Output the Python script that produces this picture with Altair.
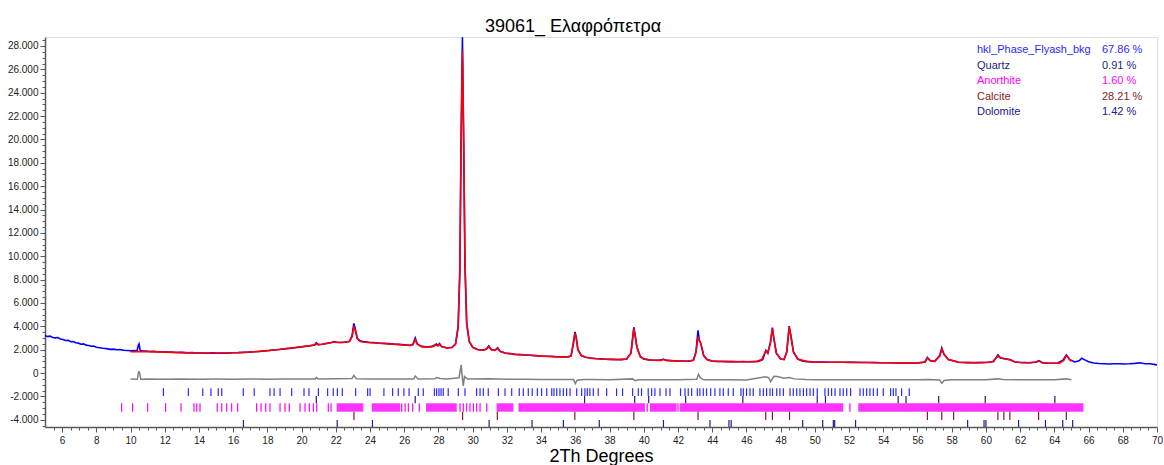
import altair as alt
import pandas as pd
import numpy as np

FONT = "Liberation Sans"
TITLE = "39061_ Ελαφρόπετρα"
X_TITLE = "2Th Degrees"

# observed pattern (2Th, counts)
OBS_X = [5.0, 5.15, 5.3, 5.45, 5.6, 5.75, 5.9, 6.05, 6.2, 6.35, 6.5, 6.65, 6.8, 6.95, 7.1, 7.25, 7.4,
         7.55, 7.7, 7.85, 8.0, 8.2, 8.4, 8.6, 8.8, 9.0, 9.2, 9.4, 9.6, 9.8, 10.0, 10.2, 10.38, 10.45,
         10.5, 10.56, 10.7, 10.9, 11.1, 11.3, 11.5, 11.8, 12.1, 12.4, 12.7, 13.0, 13.3, 13.6, 13.9,
         14.2, 14.5, 14.8, 15.1, 15.4, 15.7, 16.0, 16.3, 16.6, 16.9, 17.2, 17.5, 17.8, 18.1, 18.4,
         18.7, 19.0, 19.3, 19.6, 19.9, 20.2, 20.5, 20.75, 20.86, 20.97, 21.2, 21.5, 21.75, 21.9, 22.05,
         22.3, 22.55, 22.8, 22.95, 23.05, 23.12, 23.25, 23.4, 23.6, 23.9, 24.2, 24.5, 24.8, 25.1,
         25.4, 25.7, 26.0, 26.3, 26.5, 26.64, 26.76, 27.0, 27.3, 27.6, 27.78, 27.88, 27.96, 28.06,
         28.2, 28.5, 28.8, 29.0, 29.15, 29.25, 29.32, 29.4, 29.47, 29.55, 29.65, 29.8, 30.0, 30.3,
         30.6, 30.8, 30.94, 31.1, 31.3, 31.46, 31.6, 31.9, 32.2, 32.5, 32.8, 33.1, 33.4, 33.7, 34.0,
         34.3, 34.6, 34.9, 35.2, 35.5, 35.75, 35.9, 35.98, 36.05, 36.15, 36.35, 36.6, 36.9, 37.2,
         37.5, 37.8, 38.1, 38.4, 38.7, 39.0, 39.25, 39.42, 39.5, 39.6, 39.8, 40.0, 40.3, 40.6, 40.9,
         41.15, 41.35, 41.7, 42.0, 42.3, 42.6, 42.9, 43.05, 43.17, 43.25, 43.33, 43.5, 43.7, 44.0,
         44.3, 44.6, 44.9, 45.2, 45.5, 45.8, 46.1, 46.4, 46.7, 46.95, 47.08, 47.14, 47.25, 47.4, 47.52,
         47.6, 47.75, 48.0, 48.2, 48.36, 48.5, 48.6, 48.75, 49.0, 49.3, 49.6, 49.9, 50.2, 50.5, 50.8,
         51.1, 51.4, 51.7, 52.0, 52.3, 52.6, 52.9, 53.2, 53.5, 53.8, 54.1, 54.4, 54.7, 55.0, 55.3,
         55.6, 55.9, 56.2, 56.45, 56.58, 56.75, 57.0, 57.3, 57.42, 57.55, 57.8, 58.1, 58.4, 58.7,
         59.0, 59.3, 59.6, 59.9, 60.2, 60.45, 60.7, 60.85, 61.05, 61.4, 61.7, 62.0, 62.3, 62.6,
         62.9, 63.1, 63.3, 63.6, 63.9, 64.2, 64.5, 64.7, 64.9, 65.2, 65.45, 65.6, 65.75, 66.0, 66.3,
         66.6, 66.9, 67.2, 67.5, 67.8, 68.1, 68.4, 68.7, 69.0, 69.3, 69.6, 69.9, 70.0]
OBS_Y = [3200, 3130, 3160, 3050, 3010, 3040, 2920, 2880, 2790, 2810, 2680, 2700, 2590, 2560, 2470, 2500,
         2390, 2360, 2290, 2310, 2210, 2170, 2120, 2090, 2030, 2050, 1990, 2000, 1950, 1930, 1910, 1930,
         1900, 2350, 2500, 1960, 1880, 1890, 1850, 1870, 1830, 1820, 1800, 1790, 1760, 1770, 1730, 1750,
         1710, 1720, 1700, 1730, 1690, 1720, 1700, 1740, 1750, 1770, 1790, 1820, 1850, 1890, 1930, 1980,
         2010, 2070, 2110, 2170, 2220, 2280, 2340, 2400, 2600, 2430, 2470, 2550, 2620, 2700, 2630,
         2610, 2650, 2720, 3200, 4250, 3900, 3000, 2760, 2690, 2640, 2610, 2570, 2550, 2520,
         2480, 2450, 2420, 2380, 2420, 3000, 2500, 2280, 2240, 2260, 2400, 2490, 2350, 2520,
         2260, 2150, 2200, 2500, 4000, 9000, 20000, 28750, 20000, 9000, 4200, 2700, 2200, 2020,
         1960, 2050, 2320, 2000, 1950, 2160, 1860, 1710, 1660, 1600, 1580, 1550, 1520, 1490, 1460,
         1440, 1430, 1400, 1390, 1370, 1450, 2600, 3520, 3100, 2000, 1500, 1350, 1290, 1240,
         1210, 1180, 1170, 1160, 1150, 1200, 1700, 3920, 3200, 2200, 1400, 1210, 1130, 1100, 1090,
         1180, 1080, 1050, 1030, 1020, 1010, 1100, 1800, 3650, 2800, 2550, 1500, 1150, 1020,
         1000, 990, 980, 975, 970, 975, 965, 975, 1000, 1150, 1700, 1950, 1700, 2600, 3900,
         3000, 1700, 1200, 1160, 1800, 4020, 3200, 1800, 1200, 1020, 980, 950, 945, 935, 930,
         930, 925, 920, 915, 920, 905, 900, 900, 890, 880, 885, 875, 870, 870, 875,
         870, 865, 880, 950, 1330, 1050, 1000, 1500, 2150, 1600, 1150, 1050, 920, 900,
         890, 885, 890, 900, 930, 990, 1560, 1300, 1250, 1150, 950, 900, 890, 880,
         920, 1060, 880, 850, 840, 860, 1100, 1560, 1150, 950, 1050, 1270, 1150, 960, 860,
         820, 800, 780, 790, 800, 780, 790, 830, 880, 800, 790, 720, 700]

# calculated pattern
CALC_X = [10.0, 10.5, 11.0, 11.5, 12.0, 12.5, 13.0, 13.5, 14.0, 14.5, 15.0, 15.5, 16.0, 16.5, 17.0,
          17.5, 18.0, 18.5, 19.0, 19.5, 20.0, 20.5, 20.78, 20.86, 20.95, 21.2, 21.5, 21.9, 22.2,
          22.5, 22.8, 22.95, 23.05, 23.12, 23.25, 23.4, 23.6, 24.0, 24.5, 25.0, 25.5, 26.0, 26.4,
          26.55, 26.64, 26.75, 27.0, 27.4, 27.7, 27.85, 27.95, 28.05, 28.2, 28.5, 28.8, 29.0, 29.15,
          29.25, 29.32, 29.4, 29.47, 29.55, 29.65, 29.8, 30.0, 30.3, 30.6, 30.8, 30.94, 31.1, 31.3,
          31.45, 31.6, 31.9, 32.5, 33.0, 33.5, 34.0, 34.5, 35.0, 35.5, 35.75, 35.9, 35.98, 36.05,
          36.15, 36.35, 36.6, 37.0, 37.5, 38.0, 38.5, 39.0, 39.25, 39.42, 39.5, 39.6, 39.8, 40.0,
          40.5, 41.0, 41.15, 41.3, 42.0, 42.5, 42.9, 43.05, 43.17, 43.25, 43.35, 43.5, 43.7, 44.0,
          45.0, 46.0, 46.6, 46.9, 47.05, 47.13, 47.25, 47.4, 47.52, 47.6, 47.75, 48.0, 48.2, 48.35,
          48.5, 48.6, 48.75, 49.0, 49.5, 50.0, 51.0, 52.0, 53.0, 54.0, 55.0, 56.0, 56.4, 56.58, 56.75,
          57.0, 57.3, 57.42, 57.55, 57.8, 58.1, 58.4, 59.0, 59.5, 60.0, 60.4, 60.7, 60.85, 61.05, 61.4,
          61.7, 62.0, 62.5, 63.0, 63.1, 63.3, 63.8, 64.3, 64.55, 64.7, 64.9, 65.0]
CALC_Y = [1820, 1840, 1830, 1810, 1790, 1770, 1750, 1735, 1720, 1712, 1710, 1718, 1735, 1760, 1800,
          1855, 1920, 1995, 2075, 2160, 2250, 2345, 2410, 2520, 2430, 2470, 2540, 2650, 2610,
          2630, 2700, 3100, 3950, 3750, 2950, 2720, 2660, 2600, 2550, 2500, 2450, 2390, 2360,
          2550, 2870, 2480, 2260, 2220, 2280, 2400, 2330, 2440, 2240, 2140, 2190, 2480, 3900,
          8500, 19000, 27600, 20500, 9500, 4300, 2700, 2200, 2000, 1950, 2040, 2280, 1990, 1940,
          2120, 1850, 1700, 1600, 1550, 1500, 1450, 1415, 1385, 1365, 1450, 2800, 3400, 3000,
          2000, 1500, 1350, 1250, 1200, 1170, 1150, 1200, 1700, 3800, 3150, 2200, 1400, 1200,
          1100, 1080, 1170, 1080, 1020, 1010, 1100, 1750, 3100, 2800, 2450, 1500, 1150, 1020,
          980, 970, 1000, 1150, 1650, 1900, 1700, 2550, 3800, 3000, 1700, 1200, 1150, 1780,
          3950, 3150, 1800, 1200, 1000, 950, 930, 920, 900, 880, 870, 870, 950, 1280, 1050,
          1000, 1450, 2050, 1600, 1150, 1040, 920, 890, 890, 900, 990, 1450, 1280, 1230, 1130,
          950, 900, 880, 970, 1030, 880, 840, 850, 1080, 1500, 1150, 1000]

# difference curve (offset below zero)
DIFF_X = [10.0, 10.4, 10.47, 10.52, 10.6, 11.0, 12.0, 13.0, 14.0, 15.0, 16.0, 17.0, 18.0, 19.0, 20.0,
          20.8, 20.86, 20.95, 22.0, 22.95, 23.05, 23.2, 24.0, 25.0, 26.0, 26.55, 26.64, 26.8, 27.8,
          27.9, 28.1, 28.5, 29.2, 29.33, 29.38, 29.45, 29.52, 29.7, 30.0, 31.0, 31.5, 32.0, 33.0,
          34.0, 35.0, 35.9, 36.0, 36.1, 36.5, 37.0, 38.0, 39.35, 39.5, 39.7, 40.0, 41.0, 42.0, 43.1,
          43.2, 43.3, 43.5, 44.0, 45.0, 46.0, 47.1, 47.3, 47.42, 47.6, 47.8, 48.2, 48.5, 48.8,
          49.5, 50.0, 51.0, 52.0, 53.0, 54.0, 55.0, 56.0, 56.6, 57.3, 57.42, 57.55, 58.0, 59.0,
          60.0, 60.7, 61.0, 62.0, 63.0, 64.0, 64.7, 65.0]
DIFF_Y = [-520, -540, 100, 80, -540, -520, -540, -510, -530, -520, -540, -510, -530, -520, -500,
          -500, -380, -500, -480, -460, -200, -480, -510, -520, -520, -520, -260, -520, -500,
          -380, -460, -520, -400, 700, -200, -1100, -300, -520, -520, -480, -500, -530, -540,
          -550, -560, -560, -900, -620, -560, -560, -580, -500, -660, -580, -580, -570, -570, -540,
          -100, -400, -580, -580, -580, -600, -320, -400, -740, -280, -300, -450, -380, -500,
          -560, -570, -580, -570, -580, -570, -580, -580, -550, -600, -880, -640, -580, -580,
          -580, -500, -560, -580, -570, -570, -500, -580]

# reflection tick positions per phase (2Th)
HKL_TICKS = [11.92, 13.38, 14.22, 14.70, 15.13, 15.33, 16.59, 17.23, 18.15, 18.39, 18.74, 19.42,
             20.14, 20.43, 20.98, 21.52, 21.85, 22.09, 22.38, 23.16, 23.86, 24.0, 24.81, 25.32,
             25.65, 25.98, 26.28, 26.82, 27.11, 27.76, 27.89, 28.03, 28.15, 28.28, 28.57, 29.16,
             29.55, 30.23, 30.43, 30.62, 30.91, 31.50, 31.89, 32.28, 32.72, 32.96, 33.25, 33.48,
             33.78, 34.03, 34.33, 34.62, 34.75, 34.91, 35.10, 35.30, 35.49, 35.69, 36.08, 36.37,
             36.56, 36.70, 36.85, 37.05, 37.34, 37.83, 38.41, 38.76, 39.35, 39.68, 39.87, 40.26,
             40.46, 40.65, 40.95, 41.30, 41.53, 42.15, 42.41, 42.60, 42.80, 43.13, 43.28, 43.48,
             43.67, 43.91, 44.16, 44.45, 44.65, 44.94, 45.23, 45.68, 45.82, 46.01, 46.21, 46.40,
             46.79, 46.99, 47.18, 47.38, 47.53, 47.77, 47.96, 48.16, 48.55, 48.74, 48.94, 49.13,
             49.33, 49.52, 49.72, 49.91, 50.14, 50.59, 50.79, 50.98, 51.18, 51.47, 51.66, 51.86,
             52.09, 52.64, 52.83, 53.03, 53.22, 53.42, 53.65, 54.0, 54.43, 54.59, 54.74, 55.07, 55.52]
QUARTZ_TICKS = [20.86, 26.64, 36.54, 39.47, 40.29, 42.45, 45.79, 50.14, 50.62, 54.87, 55.33, 57.24,
                59.96, 64.03]
ANORTHITE_TICKS = [9.48, 10.12, 11.0, 12.05, 12.95, 13.71, 13.87, 14.06, 15.07, 15.33, 15.62, 15.91,
                   16.26, 17.37, 17.63, 17.90, 18.15, 18.74, 19.03, 19.28, 19.91, 20.2, 20.45, 20.69,
                   20.88, 21.56, 21.72, 25.85, 26.05, 26.24, 26.49, 26.88, 29.26, 29.45, 29.65,
                   29.84, 30.04, 30.23, 30.43, 30.82, 40.2, 42.0, 52.05]
ANORTHITE_BAND_FROM = [22.05, 24.1, 27.27, 31.4, 32.67, 40.36, 42.1, 52.54]
ANORTHITE_BAND_TO = [23.61, 25.75, 29.07, 32.38, 40.07, 41.92, 51.66, 65.7]
CALCITE_TICKS = [23.06, 29.41, 31.44, 35.97, 39.42, 43.17, 47.13, 47.52, 48.52, 56.58, 57.42, 58.11,
                 60.7, 61.05, 61.4, 63.08, 64.7]
DOLOMITE_TICKS = [16.6, 22.08, 24.14, 30.96, 33.47, 35.3, 37.4, 41.15, 43.87, 44.98, 45.11, 49.29,
                  50.46, 51.08, 51.16, 52.38, 58.93, 59.89, 60.0, 61.91, 63.48, 64.49, 65.07]

LEGEND_NAMES = ["hkl_Phase_Flyash_bkg", "Quartz", "Anorthite", "Calcite", "Dolomite"]
LEGEND_PCTS = ["67.86 %", "0.91 %", "1.60 %", "28.21 %", "1.42 %"]

# ---- styles ----
COL_OBS = "#0000ff"
COL_CALC = "#ff0000"
COL_DIFF = "#808080"
PHASE_COLORS = ["#2a2aff", "#1e1e78", "#ff00ff", "#8b1a1a", "#20208c"]
ROW_TOP = [-1310, -1970, -2590, -3310, -4020]
ROW_BOT = [-1970, -2590, -3310, -4020, -4620]

X_DOMAIN = [5, 70]
Y_DOMAIN = [-4620, 28770]
W, H = 1112, 390

x_minor = np.arange(5.5, 70.001, 0.5).tolist()
y_minor = list(range(-4500, 28501, 500))

xscale = alt.Scale(domain=X_DOMAIN, nice=False, zero=False)
yscale = alt.Scale(domain=Y_DOMAIN, nice=False, zero=False)

AX_COL = "#5a5a5a"
xaxis = alt.Axis(values=x_minor, grid=False, labelOverlap=False,
                 labelExpr="datum.value % 2 == 0 ? format(datum.value, 'd') : ''",
                 tickSize={"condition": {"test": "datum.value % 2 == 0", "value": 5}, "value": 3},
                 title=X_TITLE, titleFont=FONT, titleFontSize=18, titleFontWeight="normal",
                 titleColor="#000000", titlePadding=2, labelFont=FONT, labelFontSize=10,
                 labelColor="#222222", labelPadding=3, domainColor=AX_COL, tickColor=AX_COL,
                 domainWidth=1.5, tickWidth=1, labelFlush=False)
yaxis = alt.Axis(values=y_minor, grid=False, labelOverlap=False,
                 labelExpr="datum.value % 2000 == 0 ? replace(replace(format(datum.value, ','), ',', '.'), '\u2212', '-') : ''",
                 tickSize={"condition": {"test": "datum.value % 2000 == 0", "value": 5}, "value": 3},
                 title=None, labelFont=FONT, labelFontSize=10, labelColor="#222222", labelPadding=2,
                 domainColor=AX_COL, tickColor=AX_COL, domainWidth=1.5, tickWidth=1, labelFlush=False)

X = lambda f: alt.X(f, type="quantitative", scale=xscale, axis=xaxis)
Y = lambda f: alt.Y(f, type="quantitative", scale=yscale, axis=yaxis)

obs = pd.DataFrame({"x": OBS_X, "y": OBS_Y})
calc = pd.DataFrame({"x": CALC_X, "y": CALC_Y})
diff = pd.DataFrame({"x": DIFF_X, "y": DIFF_Y})

layers = []
layers.append(alt.Chart(diff).mark_line(color=COL_DIFF, strokeWidth=1.5).encode(x=X("x"), y=Y("y")))
layers.append(alt.Chart(obs).mark_line(color=COL_OBS, strokeWidth=1.6).encode(x=X("x"), y=Y("y")))
layers.append(alt.Chart(calc).mark_line(color=COL_CALC, strokeWidth=1.6).encode(x=X("x"), y=Y("y")))

tick_lists = [HKL_TICKS, QUARTZ_TICKS, ANORTHITE_TICKS, CALCITE_TICKS, DOLOMITE_TICKS]
for i, tl in enumerate(tick_lists):
    df = pd.DataFrame({"x": tl, "y1": ROW_TOP[i], "y2": ROW_BOT[i]})
    layers.append(alt.Chart(df).mark_rule(color=PHASE_COLORS[i], strokeWidth=1.2)
                  .encode(x=X("x"), y=Y("y1"), y2="y2"))

bands = pd.DataFrame({"a": ANORTHITE_BAND_FROM, "b": ANORTHITE_BAND_TO,
                      "y1": ROW_TOP[2], "y2": ROW_BOT[2]})
layers.append(alt.Chart(bands).mark_rect(color=PHASE_COLORS[2], opacity=0.8)
              .encode(x=X("a"), x2="b", y=Y("y1"), y2="y2"))

# title
layers.append(alt.Chart(pd.DataFrame({"t": [TITLE]})).mark_text(
    font=FONT, fontSize=18, align="center", baseline="alphabetic", color="#000000")
    .encode(x=alt.value(528), y=alt.value(-5), text="t:N"))

# legend block
LEG_Y = [13, 28.7, 44, 59.7, 75.3]
for i in range(5):
    d = pd.DataFrame({"n": [LEGEND_NAMES[i]], "p": [LEGEND_PCTS[i]]})
    layers.append(alt.Chart(d).mark_text(font=FONT, fontSize=11, align="left", baseline="middle",
                                         color=PHASE_COLORS[i])
                  .encode(x=alt.value(932), y=alt.value(LEG_Y[i]), text="n:N"))
    layers.append(alt.Chart(d).mark_text(font=FONT, fontSize=11, align="left", baseline="middle",
                                         color=PHASE_COLORS[i])
                  .encode(x=alt.value(1057), y=alt.value(LEG_Y[i]), text="p:N"))

chart = alt.layer(*layers).properties(
    width=W, height=H,
    autosize=alt.AutoSizeParams(type="none"),
    padding={"left": 45, "top": 37, "right": 7, "bottom": 38},
).configure_view(strokeWidth=0).configure(background="white")

chart.save("out.html", embed_options={"renderer": "svg", "actions": False})
